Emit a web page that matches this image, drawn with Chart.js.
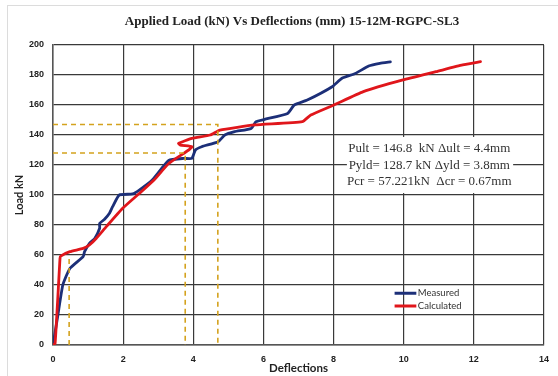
<!DOCTYPE html>
<html>
<head>
<meta charset="utf-8">
<script src="https://cdn.jsdelivr.net/npm/chart.js@4.4.1/dist/chart.umd.min.js"></script>
<style>
html,body{margin:0;padding:0;background:#fff;}
canvas{display:block;}
</style>
</head>
<body>
<canvas id="c" width="558" height="376"></canvas>
<script>
// ---- data ----
const measuredX = [0, 0.14, 0.28, 0.48, 0.86, 0.9, 1.04, 1.19, 1.33, 1.33, 1.47, 1.61, 1.7, 1.89, 2.27, 2.46, 2.83, 3.3, 3.73, 3.96, 4.06, 4.24, 4.71, 4.9, 5.18, 5.65, 5.79, 6.03, 6.69, 6.88, 7.25, 7.96, 8.24, 8.62, 9.0, 9.32, 9.62];
const measuredY = [0, 20, 40, 51, 58.9, 62.2, 67.8, 71, 77.8, 81, 83.8, 87.8, 92.2, 100, 100.7, 103.3, 110, 123, 124.4, 124.4, 130, 132.2, 135.5, 140, 142.2, 144.4, 148.9, 150.4, 154.4, 160, 163.3, 172.2, 177.8, 181, 186, 187.8, 188.7];
const calculatedX = [0, 0.06, 0.2, 0.22, 0.48, 0.86, 1.04, 1.23, 1.52, 1.98, 2.46, 2.88, 3.3, 3.87, 3.96, 3.63, 3.58, 3.96, 4.48, 4.76, 5.75, 7.11, 7.35, 8.01, 8.85, 9.98, 10.92, 11.68, 12.19];
const calculatedY = [0, 1, 57.8, 59.3, 62.2, 64.4, 66.7, 71, 78.9, 91, 101, 110, 121, 130, 132.2, 133.3, 134.4, 137.8, 140, 143.3, 146.7, 148.9, 153.3, 160, 168.9, 176.7, 182.2, 186.7, 188.9];
const pultGuideX = [0, 4.7, 4.7];
const pultGuideY = [147, 147, 0];
const pyldGuideX = [0, 3.77, 3.77];
const pyldGuideY = [128, 128, 0];
const pcrGuideX = [0.46, 0.46];
const pcrGuideY = [0, 60];
const xTicks = [0, 2, 4, 6, 8, 10, 12, 14];
const yTicks = [0, 20, 40, 60, 80, 100, 120, 140, 160, 180, 200];
const seriesNames = ['Measured', 'Calculated'];
const titleText = 'Applied Load (kN) Vs Deflections (mm) 15-12M-RGPC-SL3';
const xTitle = 'Deflections';
const yTitle = 'Load kN';
const noteLines = ['Pult = 146.8  kN \u0394ult = 4.4mm', 'Pyld= 128.7 kN \u0394yld = 3.8mm', 'Pcr = 57.221kN  \u0394cr = 0.67mm'];

const zip = (xs, ys) => xs.map((x, i) => ({x: x, y: ys[i]}));
const BLUE = '#1c2f78', RED = '#e0161b', GOLD = '#d4a21e';

const guide = (xs, ys) => ({
  data: zip(xs, ys), showLine: true, borderColor: GOLD, borderWidth: 1.6,
  borderDash: [5, 4], pointRadius: 0, tension: 0, fill: false, isGuide: true
});

const datasets = [
  guide(pultGuideX, pultGuideY),
  guide(pyldGuideX, pyldGuideY),
  guide(pcrGuideX, pcrGuideY),
  {label: seriesNames[1], data: zip(calculatedX, calculatedY), showLine: true, borderColor: RED, borderWidth: 2.8, pointRadius: 0, tension: 0.15, borderCapStyle: 'round', borderJoinStyle: 'round'},
  {label: seriesNames[0], data: zip(measuredX, measuredY), showLine: true, borderColor: BLUE, borderWidth: 2.8, pointRadius: 0, tension: 0.15, borderCapStyle: 'round', borderJoinStyle: 'round'}
];

const deco = {
  id: 'deco',
  beforeDraw(chart) {
    const ctx = chart.ctx;
    ctx.save();
    ctx.fillStyle = '#fff';
    ctx.fillRect(0, 0, chart.width, chart.height);
    ctx.strokeStyle = '#dcdcdc';
    ctx.lineWidth = 1;
    ctx.strokeRect(7.5, 5.5, 700, 500);
    ctx.fillStyle = '#222';
    ctx.font = 'bold 13px "Liberation Serif"';
    ctx.textAlign = 'center';
    ctx.textBaseline = 'middle';
    ctx.fillText(titleText, 292, 22);
    ctx.restore();
  },
  beforeDatasetsDraw(chart) {
    const ctx = chart.ctx, xs = chart.scales.x, ys = chart.scales.y;
    const l = xs.getPixelForValue(8.38), r = xs.getPixelForValue(13.12);
    const t = ys.getPixelForValue(138.7), b = ys.getPixelForValue(101.3);
    ctx.save();
    ctx.fillStyle = '#fff';
    ctx.fillRect(l, t, r - l, b - t);
    ctx.fillStyle = '#333';
    ctx.font = '13px "Liberation Serif"';
    ctx.textAlign = 'center';
    ctx.textBaseline = 'middle';
    const cx = xs.getPixelForValue(10.73);
    const ly = [131.1, 119.3, 108.9];
    noteLines.forEach((s, i) => ctx.fillText(s, cx, ys.getPixelForValue(ly[i])));
    ctx.restore();
  },
  afterDatasetsDraw(chart) {
    const ctx = chart.ctx, xs = chart.scales.x, ys = chart.scales.y;
    ctx.save();
    const x0 = xs.getPixelForValue(9.74), x1 = xs.getPixelForValue(10.36);
    const rows = [[seriesNames[0], BLUE, 34.5], [seriesNames[1], RED, 26]];
    ctx.font = '9.5px Lato';
    ctx.textBaseline = 'middle';
    ctx.textAlign = 'left';
    rows.forEach(([name, col, yv]) => {
      const y = ys.getPixelForValue(yv);
      ctx.strokeStyle = col; ctx.lineWidth = 3;
      ctx.beginPath(); ctx.moveTo(x0, y); ctx.lineTo(x1, y); ctx.stroke();
      ctx.fillStyle = '#333';
      ctx.fillText(name, x1 + 1.5, y);
    });
    ctx.restore();
  }
};

new Chart(document.getElementById('c'), {
  type: 'scatter',
  data: {datasets: datasets},
  options: {
    responsive: false, animation: false, devicePixelRatio: 1,
    layout: {padding: {left: 0, right: 9, top: 45, bottom: 0}},
    plugins: {legend: {display: false}, tooltip: {enabled: false}, title: {display: false}},
    scales: {
      x: {
        type: 'linear', min: 0, max: 14,
        afterBuildTicks: s => { s.ticks = xTicks.map(v => ({value: v})); },
        afterFit: s => { s.height = 31; },
        ticks: {padding: 9, color: '#222', font: {family: '"Liberation Sans"', size: 9, weight: 'bold'}},
        grid: {color: '#3a3a3a', lineWidth: 1.2, drawTicks: false},
        border: {color: '#555', width: 1.5},
        title: {display: true, text: xTitle, color: '#222', font: {family: 'Lato', size: 11.5, weight: 'bold'}, padding: {top: 0, bottom: 1}}
      },
      y: {
        type: 'linear', min: 0, max: 200,
        afterBuildTicks: s => { s.ticks = yTicks.map(v => ({value: v})); },
        afterFit: s => { s.width = 53; },
        ticks: {padding: 9, color: '#222', font: {family: '"Liberation Sans"', size: 9, weight: 'bold'}},
        grid: {color: '#3a3a3a', lineWidth: 1.2, drawTicks: false},
        border: {color: '#555', width: 1.5},
        title: {display: true, text: yTitle, color: '#222', font: {family: 'Lato', size: 11, weight: 'bold'}, padding: {top: 13, bottom: 0}}
      }
    }
  },
  plugins: [deco]
});
</script>
</body>
</html>
